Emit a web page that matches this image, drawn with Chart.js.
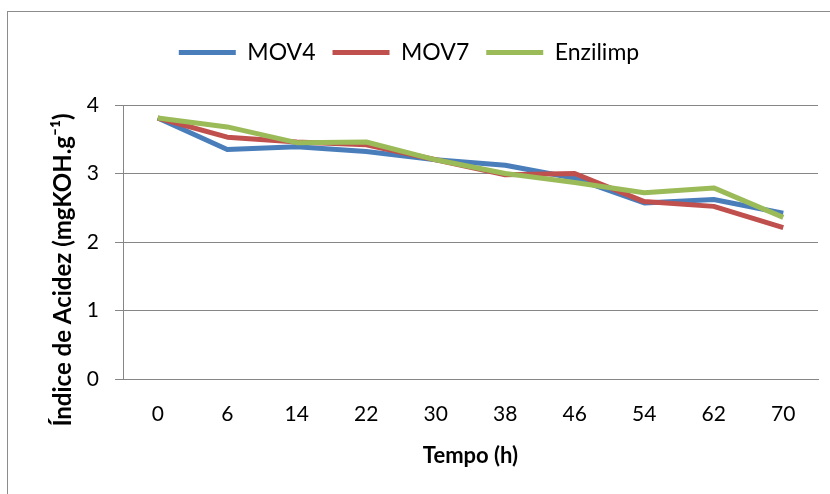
<!DOCTYPE html>
<html>
<head>
<meta charset="utf-8">
<script src="https://cdn.jsdelivr.net/npm/chart.js@4"></script>
<style>
  html, body { margin: 0; padding: 0; background: #fff; overflow: hidden; }
  #marco { position: absolute; left: 7px; top: 11px; width: 900px; height: 600px; border: 1px solid #8c8c8c; box-sizing: border-box; }
  #wrap { position: absolute; left: 0; top: 0; width: 830px; height: 494px; }
</style>
</head>
<body>
<div id="marco"></div>
<div id="wrap"><canvas id="grafico"></canvas></div>
<script>
// Datos
const tiempos = ['0', '6', '14', '22', '30', '38', '46', '54', '62', '70'];
const mov4 = [3.81, 3.35, 3.39, 3.32, 3.20, 3.12, 2.93, 2.57, 2.62, 2.42];
const mov7 = [3.81, 3.53, 3.46, 3.42, 3.20, 2.98, 3.00, 2.59, 2.52, 2.21];
const enzilimp = [3.81, 3.68, 3.45, 3.46, 3.20, 3.00, 2.87, 2.72, 2.79, 2.36];
const ticksY = [0, 1, 2, 3, 4];
const tituloY = 'Índice de Acidez (mgKOH.g⁻¹)';

const fuente = "Lato, 'Open Sans', sans-serif";
const gris = '#868686';

const serie = (label, data, color, orden) => ({
  label, data, order: orden,
  borderColor: color, backgroundColor: color,
  borderWidth: 5, pointRadius: 0, tension: 0,
  borderJoinStyle: 'round'
});

// titulo del eje Y un poco mas abajo del centro, como en el original
const tituloEjeY = {
  id: 'tituloEjeY',
  afterDraw(chart) {
    const c = chart.ctx;
    const a = chart.chartArea;
    c.save();
    c.translate(63, (a.top + a.bottom) / 2 + 28);
    c.rotate(-Math.PI / 2);
    c.font = `bold 24px ${fuente}`;
    c.fillStyle = '#000';
    c.textAlign = 'center';
    c.textBaseline = 'middle';
    c.fillText(tituloY, 0, 0);
    c.restore();
  }
};

const ctx = document.getElementById('grafico').getContext('2d');
new Chart(ctx, {
  type: 'line',
  data: {
    labels: tiempos,
    datasets: [
      serie('MOV4', mov4, '#4A7EBB', 2),
      serie('MOV7', mov7, '#C0504D', 1),
      serie('Enzilimp', enzilimp, '#9BBB59', 0)
    ]
  },
  plugins: [tituloEjeY],
  options: {
    responsive: true,
    maintainAspectRatio: false,
    animation: false,
    layout: { padding: { left: 0, right: 12, top: 24, bottom: 0 } },
    plugins: {
      tooltip: { enabled: false },
      legend: {
        position: 'top',
        labels: {
          color: '#000',
          font: { family: fuente, size: 23 },
          usePointStyle: true, pointStyle: 'line', pointStyleWidth: 57,
          padding: 17,
          sort: (a, b) => a.datasetIndex - b.datasetIndex
        }
      },
      // espacio entre leyenda y grafico
      subtitle: { display: true, text: ' ', weight: 500, font: { size: 10 }, padding: { top: 12, bottom: 7 } }
    },
    scales: {
      x: {
        offset: true,
        afterFit: (s) => { s.height = 115; },
        grid: { display: false, drawTicks: false },
        border: { display: true, color: gris, width: 1 },
        ticks: { color: '#000', font: { family: fuente, size: 21 }, padding: 23, maxRotation: 0 },
        title: { display: true, text: 'Tempo (h)', color: '#000', font: { family: fuente, size: 22, weight: 'bold' }, padding: { top: 4, bottom: 25 } }
      },
      y: {
        min: 0, max: 4,
        afterFit: (s) => { s.width = 123; },
        afterBuildTicks: (s) => { s.ticks = ticksY.map(v => ({ value: v })); },
        grid: { color: gris, lineWidth: 1, tickLength: 8 },
        border: { display: true, color: gris, width: 1 },
        ticks: { color: '#000', font: { family: fuente, size: 21 }, padding: 16 }
      }
    }
  }
});
</script>
</body>
</html>
